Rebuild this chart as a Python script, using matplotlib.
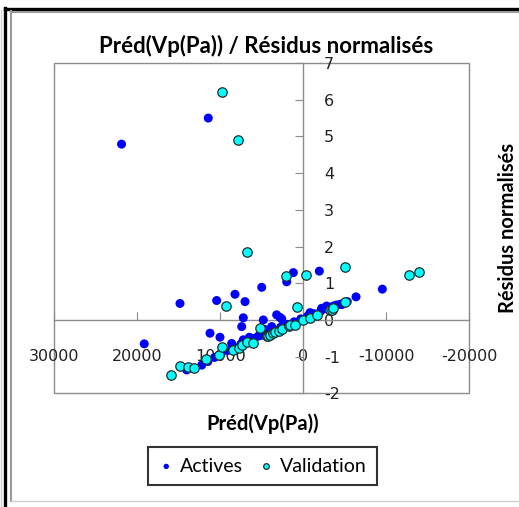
import matplotlib
matplotlib.use('Agg')
import matplotlib.pyplot as plt
from matplotlib.lines import Line2D
from matplotlib.patches import Rectangle

# predicted value vs normalised residual, training set
actives_x = [21900, 11450, 19160, 14860, 10440, 8230, 7025, 5010, 2000, 1200,
             -1930, -9520, -6350, 11240, 10040, 8630, 7230, 7420, 4820, 3210,
             3810, 4615, 2600, -807, -2215, -4020, -4630, -3620, 7230, 6500,
             5420, 2800, -570, -2820,
             14050, 13300, 12240, 11500, 10700, 9900, 9100, 8300, 7500, 6700,
             5900, 5100, 4300, 3500, 2700, 1900, 1100, 300, -500, -1300,
             -2100, -2900, -3700, -4500, -5300]
actives_y = [4.79, 5.50, -0.65, 0.45, 0.53, 0.70, 0.50, 0.89, 1.04, 1.29,
             1.33, 0.84, 0.63, -0.36, -0.47, -0.64, 0.06, -0.18, 0.00, 0.14,
             -0.18, -0.26, 0.03, 0.20, 0.32, 0.41, 0.42, 0.38, -0.54, -0.47,
             -0.44, 0.07, 0.05, 0.38,
             -1.36, -1.32, -1.23, -1.13, -1.02, -0.93, -0.83, -0.74, -0.65, -0.58,
             -0.50, -0.42, -0.34, -0.27, -0.19, -0.12, -0.05, 0.03, 0.10, 0.17,
             0.24, 0.30, 0.36, 0.43, 0.50]

# validation set
valid_x = [9830, 7830, 6750, 2085, -325, -5025, -12770, -13940, 9320, 800,
           -5025,
           15940, 14860, 13930, 13170, 11760, 10150, 9830, 8430, 7710, 7420,
           6820, 6025, 5220, 4410, 4220, 4010, 3615, 3410, 2890, 2600,
           1690, 1600, 1000, 75, -810, -1690, -3200, -3420, -3620]
valid_y = [6.22, 4.89, 1.86, 1.20, 1.23, 1.45, 1.23, 1.32, 0.37, 0.36,
           0.50,
           -1.50, -1.25, -1.29, -1.30, -1.05, -0.96, -0.73, -0.82, -0.77, -0.68,
           -0.59, -0.62, -0.21, -0.44, -0.44, -0.41, -0.35, -0.32, -0.29, -0.25,
           -0.16, -0.14, -0.14, 0.00, 0.05, 0.14, 0.27, 0.28, 0.32]

xticks = [30000, 20000, 10000, 0, -10000, -20000]
yticks = [-2, -1, 0, 1, 2, 3, 4, 5, 6, 7]

W, H = 519, 507
fig = plt.figure(figsize=(W / 100, H / 100), dpi=100)
ax = fig.add_axes([54.3 / W, 1 - 393.4 / H, 415 / W, 330.4 / H])

grey = '#8c8c8c'
ax.scatter(actives_x, actives_y, s=42, c='#0000ff', edgecolors='none', label='Actives', zorder=3)
ax.scatter(valid_x, valid_y, s=46, c='#00ffff', edgecolors='#1e2e2e', linewidths=0.9,
           label='Validation', zorder=4)

ax.set_xlim(30000, -20000)
ax.set_ylim(-2, 7)
ax.set_xticks(xticks)
ax.set_xticklabels([str(v) for v in xticks])
ax.set_yticks(yticks)
ax.set_yticklabels([str(v) for v in yticks])

# axes cross at zero, y labels on the right of the vertical axis
for s in ['top', 'left']:
    ax.spines[s].set_visible(False)
ax.spines['bottom'].set_position(('data', 0))
ax.spines['right'].set_position(('data', 0))
for s in ['bottom', 'right']:
    ax.spines[s].set_color(grey)
    ax.spines[s].set_linewidth(1.0)
ax.yaxis.tick_right()
ax.tick_params(axis='x', direction='in', length=6, color=grey, pad=21, labelsize=11.5,
               labelcolor='#222222')
ax.tick_params(axis='y', direction='in', length=6, color=grey, pad=15, labelsize=11.5,
               labelcolor='#222222')
for lbl in ax.get_yticklabels():
    lbl.set_horizontalalignment('left')
ax.add_patch(Rectangle((0, 0), 1, 1, transform=ax.transAxes, fill=False,
                       edgecolor=grey, linewidth=1.0, zorder=1, clip_on=False))

tfont = 'Lato'
fig.text(266 / W, 1 - 46 / H, 'Préd(Vp(Pa)) / Résidus normalisés', ha='center', va='center',
         fontsize=16, fontweight='bold', family=tfont)
fig.text(263 / W, 1 - 424 / H, 'Préd(Vp(Pa))', ha='center', va='center',
         fontsize=14.5, fontweight='bold', family=tfont)
fig.text(508 / W, 1 - 228 / H, 'Résidus normalisés', ha='center', va='center',
         rotation=90, fontsize=14.5, fontweight='bold', family=tfont)

leg = fig.legend(loc='center', bbox_to_anchor=(262.5 / W, 1 - 466 / H), ncol=2,
                 frameon=True, fancybox=False, markerscale=0.6, handlelength=0.8,
                 handletextpad=0.3, columnspacing=0.8, borderpad=0.55, borderaxespad=0,
                 prop={'family': tfont, 'size': 14})
leg.get_frame().set_edgecolor('black')
leg.get_frame().set_linewidth(1.5)

# chart area border
fig.add_artist(Line2D([5 / W, 5 / W], [0, 1 - 8 / H], color='black', lw=2.4))
fig.add_artist(Line2D([5 / W, 1], [1 - 9 / H, 1 - 9 / H], color='black', lw=2.4))
fig.add_artist(Line2D([11 / W, 11 / W], [1 - 501 / H, 1 - 11 / H], color='#9a9a9a', lw=1.5))
fig.add_artist(Line2D([11 / W, 1], [1 - 12 / H, 1 - 12 / H], color='#9a9a9a', lw=1.5))
fig.add_artist(Line2D([11 / W, 1], [1 - 501 / H, 1 - 501 / H], color='#d0d0d0', lw=1.0))
fig.add_artist(Line2D([1 / W, 1 / W], [0, 1 - 10 / H], color='#d0d0d0', lw=1.0))

fig.savefig('out.png', dpi=100)
